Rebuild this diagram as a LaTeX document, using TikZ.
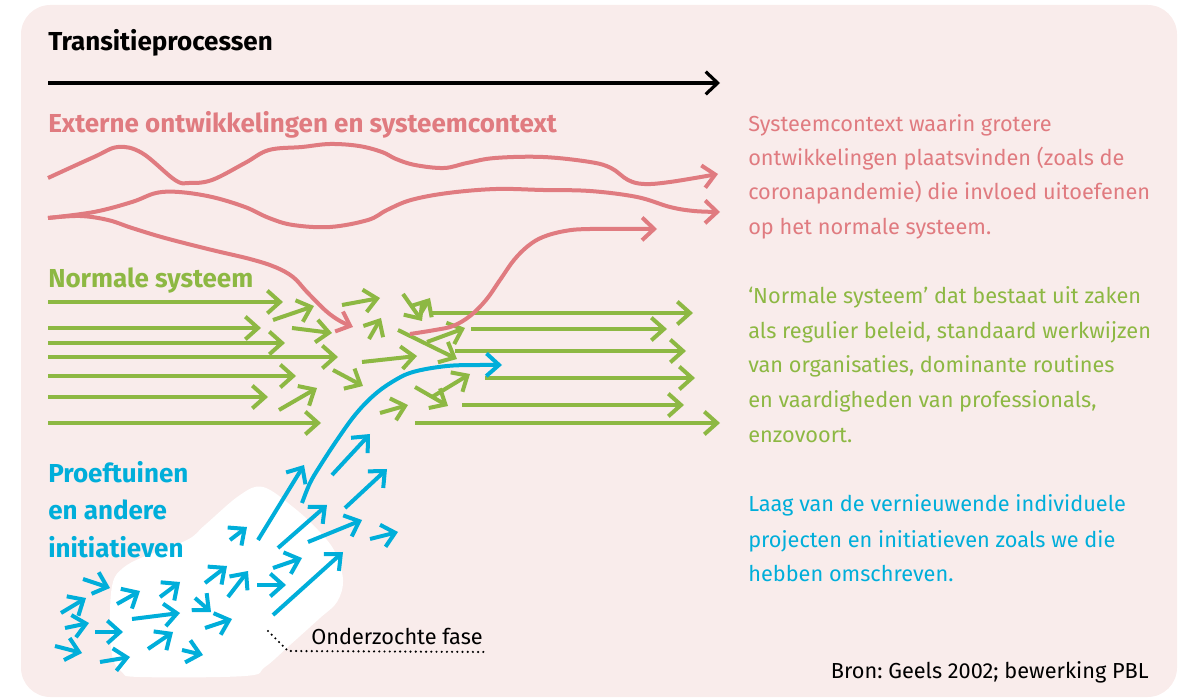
\documentclass[tikz,border=0pt]{standalone}
\usepackage{fontspec}
\setmainfont{Fira Sans}
\usetikzlibrary{arrows.meta}
\frenchspacing
\definecolor{bgc}{RGB}{249,236,235}
\definecolor{pk}{RGB}{224,123,128}
\definecolor{gr}{RGB}{141,184,67}
\definecolor{bl}{RGB}{0,174,218}
\newcommand\hfont{\fontsize{19.5pt}{22pt}\selectfont\bfseries}
\newcommand\bfont{\fontsize{16.3pt}{19pt}\selectfont}
\tikzset{
  ar/.style={line width=3pt, -{Straight Barb[length=9.5pt,width=17pt]}},
  garr/.style={ar, draw=gr},
  barr/.style={ar, draw=bl},
  pline/.style={line width=3pt, draw=pk},
  lbl/.style={anchor=base west, inner sep=0pt},
}
\begin{document}
\begin{tikzpicture}[x=0.75pt,y=-0.75pt]
\useasboundingbox (0,0) rectangle (1179,698);
\fill[bgc, rounded corners=22pt] (21,5) rectangle (1177,697);
% white blob
\fill[white] plot[smooth cycle, tension=0.6] coordinates {(263,487) (293,507) (318,530) (335,552) (343,580) (337,602) (320,618) (290,645) (265,667) (245,676) (140,677) (122,672) (112,655) (110,613) (113,582) (123,568) (143,557) (187,540) (205,525) (240,495)};
% title and black arrow
\node[lbl, font=\hfont] (title) at (48,51) {Transitieprocessen};
\coordinate (ta) at (48,83);
\coordinate (tb) at (720,83);
\draw[line width=2.4pt, -{Straight Barb[length=9pt,width=17pt]}] (ta) -- (tb);
% headings
\node[lbl, font=\hfont, text=pk] (ext) at (48,133) {Externe ontwikkelingen en systeemcontext};
\node[lbl, font=\hfont, text=gr] (norm) at (48,288) {Normale systeem};
\node[lbl, font=\hfont, text=bl] (pt1) at (48,483) {Proeftuinen};
\node[lbl, font=\hfont, text=bl] (pt2) at (48,520) {en andere};
\node[lbl, font=\hfont, text=bl] (pt3) at (48,557) {initiatieven};
% green arrows left
\draw[garr] (48,302) -- (283,302);
\draw[garr] (48,328) -- (261,328);
\draw[garr] (48,343) -- (285,343);
\draw[garr] (48,357) -- (338,357);
\draw[garr] (48,376) -- (296,376);
\draw[garr] (48,397) -- (268,397);
\draw[garr] (48,423) -- (321,423);
% green arrows centre
\draw[garr] (273,320) -- (314,306);
\draw[garr] (292,328) -- (332,333);
\draw[garr] (342,305) -- (380,298);
\draw[garr] (369,339) -- (381,318);
\draw[garr] (403,294) -- (422,321);
\draw[garr] (418,318) -- (430,298);
\draw[garr] (362,362) -- (417,356);
\draw[garr] (333,370) -- (363,386);
\draw[garr] (279,410) -- (317,388);
\draw[garr] (380,413) -- (408,405);
\draw[garr] (398,330) -- (457,359);
\draw[garr] (427,342) -- (465,328);
\draw[garr] (415,387) -- (448,406);
\draw[garr] (432,397) -- (470,374);
% green arrows right
\draw[garr] (430,313) -- (693,313);
\draw[garr] (471,329) -- (667,329);
\draw[garr] (455,351) -- (686,351);
\draw[garr] (485,378) -- (695,378);
\draw[garr] (462,405) -- (684,405);
\draw[garr] (415,423) -- (720,423);
% pink curves
\draw[pline, -{Straight Barb[length=9pt,width=17pt]}] plot[smooth, tension=0.6] coordinates {(48,178) (94,157) (118,147) (142,153) (175,180) (189,183) (212,180) (245,163) (269,150) (302,147) (330,144) (359,146) (382,152) (396,159) (415,165) (444,168) (467,163) (495,158) (543,157) (590,162) (611,168) (628,180) (644,184) (670,182) (718,174)};
\draw[pline, -{Straight Barb[length=9pt,width=17pt]}] plot[smooth, tension=0.6] coordinates {(48,218) (94,212) (132,202) (156,193) (179,192) (212,197) (245,207) (269,218) (293,225) (330,227) (368,220) (387,210) (411,200) (448,193) (496,189) (543,190) (590,191) (637,197) (670,207) (694,211) (720,212)};
\draw[pline, -{Straight Barb[length=9pt,width=16pt]}] plot[smooth, tension=0.6] coordinates {(48,218) (80,216) (108,220) (132,228) (165,238) (212,250) (250,259) (275,267) (293,277) (307,292) (326,311) (340,321) (353,327)};
\draw[pline, -{Straight Barb[length=9pt,width=17pt]}] plot[smooth, tension=0.6] coordinates {(410,334) (435,330) (453,326) (470,316) (486,300) (500,280) (514,260) (528,246) (543,237) (565,231) (590,229) (657,229)};
% blue curve
\draw[barr] plot[smooth, tension=0.6] coordinates {(302,503) (310,483) (320,466) (337,440) (355,415) (373,396) (392,382) (413,372) (447,366) (480,365) (502,365)};
% blue arrows
\draw[barr] (258,540) -- (304,465);
\draw[barr] (332,475) -- (370,434);
\draw[barr] (345,508) -- (387,469);
\draw[barr] (278,548) -- (327,505);
\draw[barr] (308,542) -- (362,520);
\draw[barr] (370,539) -- (398,532);
\draw[barr] (230,540) -- (247,527);
\draw[barr] (273,568) -- (302,558);
\draw[barr] (273,615) -- (343,552);
\draw[barr] (257,585) -- (286,585);
\draw[barr] (205,583) -- (227,566);
\draw[barr] (228,597) -- (248,571);
\draw[barr] (195,598) -- (211,612);
\draw[barr] (205,628) -- (232,619);
\draw[barr] (160,597) -- (180,582);
\draw[barr] (117,604) -- (140,591);
\draw[barr] (83,579) -- (110,588);
\draw[barr] (61,613) -- (86,598);
\draw[barr] (65,628) -- (89,623);
\draw[barr] (132,619) -- (180,613);
\draw[barr] (95,632) -- (123,632);
\draw[barr] (148,649) -- (173,632);
\draw[barr] (55,646) -- (82,653);
\draw[barr] (100,662) -- (130,657);
\draw[barr] (182,650) -- (203,655);
% Onderzochte fase
\node[lbl, font=\bfont] (fase) at (311,644) {Onderzochte fase};
\coordinate (d1) at (268,631);
\coordinate (d2) at (288,651);
\coordinate (d3) at (488,652);
\draw[line width=1.8pt, line cap=round, dash pattern=on 0pt off 3.9pt] (d1) -- (d2) -- (d3);
% right texts
\node[lbl, font=\bfont, text=pk] (p1) at (748,132) {Systeemcontext waarin grotere};
\node[lbl, font=\bfont, text=pk] (p2) at (748,166) {ontwikkelingen plaatsvinden (zoals de};
\node[lbl, font=\bfont, text=pk] (p3) at (748,200) {coronapandemie) die invloed uitoefenen};
\node[lbl, font=\bfont, text=pk] (p4) at (748,235) {op het normale systeem.};
\node[lbl, font=\bfont, text=gr] (g1) at (748,304) {‘Normale systeem’ dat bestaat uit zaken};
\node[lbl, font=\bfont, text=gr] (g2) at (748,339) {als regulier beleid, standaard werkwijzen};
\node[lbl, font=\bfont, text=gr] (g3) at (748,373) {van organisaties, dominante routines};
\node[lbl, font=\bfont, text=gr] (g4) at (748,408) {en vaardigheden van professionals,};
\node[lbl, font=\bfont, text=gr] (g5) at (748,443) {enzovoort.};
\node[lbl, font=\bfont, text=bl] (b1) at (748,512) {Laag van de vernieuwende individuele};
\node[lbl, font=\bfont, text=bl] (b2) at (748,547) {projecten en initiatieven zoals we die};
\node[lbl, font=\bfont, text=bl] (b3) at (748,581) {hebben omschreven.};
\node[anchor=base east, inner sep=0pt, font=\bfont] (bron) at (1149,678) {Bron: Geels 2002; bewerking PBL};
\end{tikzpicture}
\end{document}
